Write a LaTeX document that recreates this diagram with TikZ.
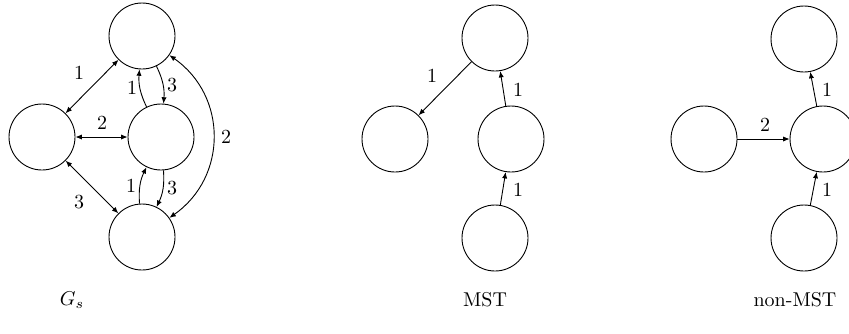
\documentclass[tikz,border=0pt]{standalone}
\usetikzlibrary{arrows.meta}
\begin{document}
\begin{tikzpicture}[x=0.5pt,y=0.5pt,>={Latex[length=3.2pt,width=2.6pt]},
  vtx/.style={draw,circle,minimum size=33pt,inner sep=0pt,line width=0.45pt},
  conn/.style={line width=0.45pt},
  lbl/.style={inner sep=0pt}]
\useasboundingbox (0,0) rectangle (849,-333);
\clip (0,0) rectangle (849,-333);
% G_s
\node[vtx] (gt) at (142,-36) {};
\node[vtx] (gl) at (42,-137) {};
\node[vtx] (gm) at (161,-137) {};
\node[vtx] (gb) at (142,-237) {};
\draw[conn,<->] (gl) -- (gt);
\draw[conn,<->] (gl) -- (gm);
\draw[conn,<->] (gl) -- (gb);
\draw[conn,->] (gt) to[bend left=15] (gm);
\draw[conn,->] (gm) to[bend left=15] (gt);
\draw[conn,->] (gm) to[bend left=15] (gb);
\draw[conn,->] (gb) to[bend left=15] (gm);
\draw[conn,<->] (gt) to[bend left=55,looseness=1.12] (gb);
\node[lbl] (l1) at (79,-73) {1};
\node[lbl] (l2) at (102,-123) {2};
\node[lbl] (l3) at (79,-202) {3};
\node[lbl] (l4) at (132,-88) {1};
\node[lbl] (l5) at (172,-85) {3};
\node[lbl] (l6) at (131,-186) {1};
\node[lbl] (l7) at (172,-188) {3};
\node[lbl] (l8) at (226,-137) {2};
% MST
\node[vtx] (mt) at (495,-38) {};
\node[vtx] (ml) at (395,-139) {};
\node[vtx] (mm) at (511,-139) {};
\node[vtx] (mb) at (495,-238) {};
\draw[conn,->] (mt) -- (ml);
\draw[conn,->] (mm) -- (mt);
\draw[conn,->] (mb) -- (mm);
\node[lbl] (m1) at (432,-76) {1};
\node[lbl] (m2) at (518,-90) {1};
\node[lbl] (m3) at (518,-190) {1};
% non-MST
\node[vtx] (nt) at (804,-39) {};
\node[vtx] (nl) at (704,-139) {};
\node[vtx] (nm) at (823,-139) {};
\node[vtx] (nb) at (804,-238) {};
\draw[conn,->] (nl) -- (nm);
\draw[conn,->] (nm) -- (nt);
\draw[conn,->] (nb) -- (nm);
\node[lbl] (n1) at (765,-125) {2};
\node[lbl] (n2) at (827,-90) {1};
\node[lbl] (n3) at (827,-190) {1};
% captions
\node (c1) at (72,-300) {$G_s$};
\node (c2) at (485,-300) {MST};
\node (c3) at (795,-300) {non-MST};
\end{tikzpicture}
\end{document}
